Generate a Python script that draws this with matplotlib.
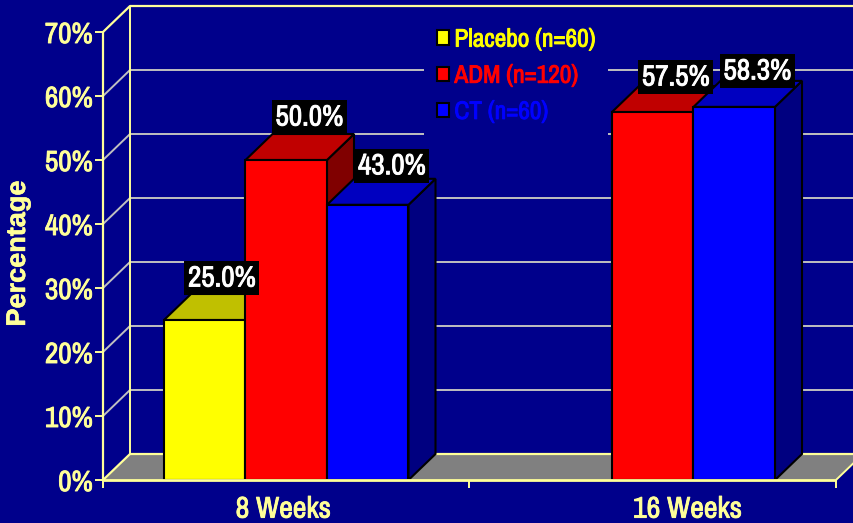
import matplotlib
matplotlib.use("Agg")
from matplotlib import pyplot as plt
from matplotlib import patheffects as pe
from matplotlib.patches import Polygon, Patch

groups = ["8 Weeks", "16 Weeks"]
series = ["Placebo (n=60)", "ADM (n=120)", "CT (n=60)"]
placebo = [25.0, None]
adm = [50.0, 57.5]
ct = [43.0, 58.3]
yticks = [0, 10, 20, 30, 40, 50, 60, 70]

BG = "#00008B"
AXIS = "#FFFF99"
GRID = "#C0C0C0"
FONT = ["Archivo Narrow", "Roboto Condensed", "Liberation Sans"]

# front, top and side colours of each series
front = ["#FFFF00", "#FF0000", "#0000FF"]
top = ["#C0C000", "#C00000", "#0000C0"]
side = ["#808000", "#800000", "#000080"]

# hand placement of the value boxes, in pixels from the back of the bar top
nudge = {(0, 0): (-10, 16), (1, 0): (-4, 17), (2, 0): (-3, 13), (1, 1): (-4, 9), (2, 1): (-4, 10)}

W, H = 854, 523
fig = plt.figure(figsize=(W / 100, H / 100), dpi=100, facecolor=BG)
ax = fig.add_axes([103 / W, 1 - 480 / H, 733 / W, 448 / H])
ax.patch.set_visible(False)
ax.set_xlim(-0.5, 1.5)
ax.set_ylim(0, 70)
for s in ax.spines.values():
    s.set_visible(False)

# depth of the fake 3d box in data units
dx = 27 / 366.5
dy = 26 / 6.4
bar_w = 81.5 / 366.5
x0, x1 = ax.get_xlim()


def line(xs, ys, color, lw, z=1):
    ax.plot(xs, ys, color=color, lw=lw, zorder=z, clip_on=False, solid_capstyle="butt")


def bold(t, color, w=0.65):
    # the narrow font only has a regular cut here, so thicken it
    t.set_path_effects([pe.withStroke(linewidth=w, foreground=color)])


# floor and walls
ax.add_patch(Polygon([(x0, 0), (x1, 0), (x1 + dx, dy), (x0 + dx, dy)], fc="#808080", ec="none", zorder=1, clip_on=False))
for v in yticks[1:-1]:
    line([x0, x0 + dx, x1 + dx], [v, v + dy, v + dy], GRID, 1.4)
line([x0, x0 + dx, x1 + dx], [70, 70 + dy, 70 + dy], AXIS, 1.6)
line([x0, x0 + dx, x1 + dx], [0, dy, dy], AXIS, 1.6)
line([x0 + dx, x0 + dx], [0 + dy, 70 + dy], AXIS, 1.4)
line([x1, x1 + dx], [0, dy], AXIS, 1.4)


def bar3d(x, v, i):
    l, r = x - bar_w / 2, x + bar_w / 2
    kw = dict(ec="black", lw=1.5, zorder=3 + i, clip_on=False, joinstyle="miter")
    ax.add_patch(Polygon([(r, 0), (r + dx, dy), (r + dx, v + dy), (r, v)], fc=side[i], **kw))
    ax.add_patch(Polygon([(l, v), (r, v), (r + dx, v + dy), (l + dx, v + dy)], fc=top[i], **kw))
    ax.add_patch(Polygon([(l, 0), (r, 0), (r, v), (l, v)], fc=front[i], **kw))


for i, values in enumerate([placebo, adm, ct]):
    for g, v in enumerate(values):
        if v is None:
            continue
        x = g + (i - 1) * bar_w
        bar3d(x, v, i)
        t = ax.annotate(f"{v:.1f}%", (x + dx, v + dy), xytext=nudge[(i, g)], textcoords="offset pixels",
                        color="white", family=FONT, fontsize=21, ha="center", va="center", zorder=10,
                        bbox=dict(fc="black", ec="none", pad=2.8))
        bold(t, "white")

# front axis lines and ticks
line([x0, x0], [0, 70], AXIS, 1.6, 8)
line([x0, x1], [0, 0], AXIS, 2, 8)
ax.set_yticks(yticks)
ax.set_yticklabels([f"{v}%" for v in yticks], family=FONT, fontsize=21, color=AXIS)
for t in ax.get_yticklabels():
    bold(t, AXIS)
ax.set_xticks([x0, 0.5, x1])
ax.set_xticklabels([])
ax.tick_params(axis="both", color=AXIS, width=1.4, length=5.5, pad=2)

t = ax.text(-0.008, -4.55, groups[0], family=FONT, fontsize=21.5, color=AXIS, ha="center", va="center")
bold(t, AXIS)
t = ax.text(1.095, -4.55, groups[1], family=FONT, fontsize=21.5, color=AXIS, ha="center", va="center")
bold(t, AXIS)
t = fig.text(18 / W, 1 - 253.5 / H, "Percentage", family="Liberation Sans", weight="bold", fontsize=19.5, color=AXIS,
             rotation=90, ha="center", va="center")
bold(t, AXIS, 0.4)

handles = [Patch(fc=c, ec="black", lw=1.5) for c in front]
leg = ax.legend(handles, series, loc="upper left", bbox_to_anchor=(0.438, 1.038), frameon=True,
                facecolor=BG, edgecolor="none", framealpha=1, fancybox=False, labelspacing=0.52,
                handlelength=0.5, handleheight=0.5, handletextpad=0.2, borderpad=0.5, borderaxespad=0,
                prop=dict(family=FONT, size=18.2))
for t, c in zip(leg.get_texts(), front):
    t.set_color(c)
    bold(t, c)
leg.set_zorder(6)

fig.savefig("out.png", dpi=100, facecolor=BG)
